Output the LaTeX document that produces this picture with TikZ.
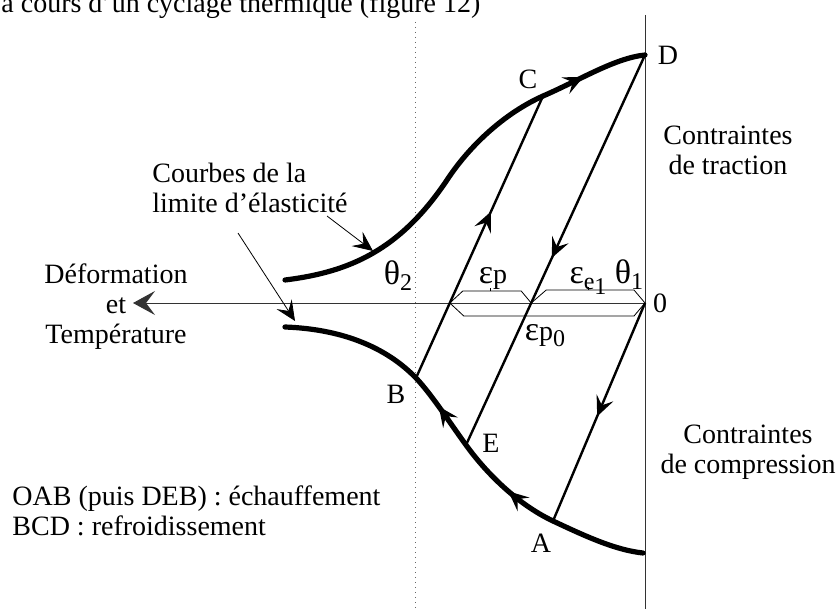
\documentclass[tikz,border=0pt]{standalone}
\usepackage{fontspec}
\setmainfont{Liberation Serif}
\usetikzlibrary{arrows.meta,decorations.markings,calc}
\newcommand\lowidx[1]{\raisebox{-0.5ex}{\fontsize{12}{13}\selectfont #1}}
\newcommand\gk[1]{{\fontsize{17}{18}\selectfont #1}}

\begin{document}
\begin{tikzpicture}[x=0.5pt,y=-0.5pt,font=\fontsize{14}{15}\selectfont]
  \tikzset{lbl/.style={inner sep=0pt},
    axe/.style={line width=0.5pt,black!80},
    limite/.style={line width=2.6pt,line cap=round},
    trajet/.style={line width=1.2pt},
    brk/.style={line width=0.4pt},
    fl/.tip={Stealth[length=10pt,width=9pt,inset=4pt]},
    lead/.style={line width=0.4pt,-fl},
    midarr/.style={postaction={decorate},decoration={markings,
      mark=at position #1 with {\arrow{fl}}}}}
  \useasboundingbox (0,0) rectangle (838,609);
  \clip (0,0) rectangle (838,609);
  \node[lbl,anchor=base west] (titre) at (1,13) {a cours d'un cyclage thermique (figure 12)};
  \coordinate (O) at (645,303);
  \coordinate (A) at (553,521);
  \coordinate (B) at (416,378);
  \coordinate (C) at (543,96);
  \coordinate (D) at (645,55);
  \coordinate (E) at (466,445);
  \coordinate (s1) at (285,280);
  \coordinate (s2) at (285,327);
  \coordinate (f2) at (643,553);
  \coordinate (tip) at (133,303);
  \coordinate (top) at (645,15);
  \coordinate (bot) at (645,609);
  \coordinate (dtop) at (415,22);
  \coordinate (dbot) at (415,609);
  \coordinate (Q) at (intersection of B--C and O--tip);
  \coordinate (P) at (intersection of D--E and O--tip);
  \draw[axe] (top) -- (bot);
  \draw[axe,dotted,black!60] (dtop) -- (dbot);
  \draw[axe,-{Stealth[length=11pt,width=12pt,inset=4.5pt]}] (O) -- (tip);
  \draw[limite,midarr=0.85] (s1) .. controls (350,272) and (400,250) .. (447,180)
    .. controls (470,145) and (505,113) .. (C) .. controls (580,80) and (615,58) .. (D);
  \draw[limite,postaction={decorate},decoration={markings,
      mark=at position 0.34 with {\arrow{fl}},
      mark=at position 0.59 with {\arrow{fl}}}]
    (f2) .. controls (615,550) and (585,536) .. (A) .. controls (515,503) and (484,470) .. (E)
    .. controls (450,423) and (432,395) .. (B) .. controls (385,346) and (340,329) .. (s2);
  \draw[trajet,midarr=0.59] (B) -- (C);
  \draw[trajet,midarr=0.52] (D) -- (E);
  \draw[trajet,midarr=0.52] (O) -- (A);
  \draw[brk] (Q) -- ($(Q)+(13,-12)$) -- ($(P)+(-10,-12)$) -- (P);
  \draw[brk] ($(Q)!0.5!(P)+(0,-12)$) -- ++(0,-3);
  \draw[brk] (P) -- ($(P)+(15,-13)$) -- ($(O)+(-11,-13)$) -- (O);
  \draw[brk] ($(P)!0.5!(O)+(0,-13)$) -- ++(0,-3);
  \draw[brk] (Q) -- ($(Q)+(14,13)$) -- ($(O)+(-11,13)$) -- (O);
  \node[lbl,align=left,anchor=west] (lim) at (152,188) {Courbes de la\\limite d'élasticité};
  \coordinate (l1) at (327,216);
  \coordinate (l2) at (238,233);
  \coordinate (t1) at (373,251);
  \coordinate (t2) at (295,321);
  \draw[lead] (l1) -- (t1);
  \draw[lead] (l2) -- (t2);
  \node[lbl,align=center] (def) at (116,307) {Déformation\\et\\Température};
  \node[lbl,align=center] (trac) at (728,150) {Contraintes\\de traction};
  \node[lbl,align=center] (comp) at (748,452) {Contraintes\\de compression};
  \node[lbl,anchor=base west] (leg1) at (12,505) {OAB (puis DEB) : échauffement};
  \node[lbl,anchor=base west] (leg2) at (12,535) {BCD : refroidissement};
  \node[lbl] (nO) at (660,303) {0};
  \node[lbl] (nA) at (541,543) {A};
  \node[lbl] (nB) at (396,394) {B};
  \node[lbl] (nC) at (528,79) {C};
  \node[lbl] (nD) at (668,55) {D};
  \node[lbl] (nE) at (491,443) {E};
  \node[lbl,anchor=base] (th2) at (398,284) {\gk{θ}\lowidx{2}};
  \node[lbl,anchor=base] (th1) at (629,283) {\gk{θ}\lowidx{1}};
  \node[lbl,anchor=base] (ep) at (493,283) {\gk{ε}p};
  \node[lbl,anchor=base] (ee) at (588,283) {\gk{ε}\lowidx{e\lowidx{1}}};
  \node[lbl,anchor=base] (ep0) at (545,340) {\gk{ε}p\lowidx{0}};
\end{tikzpicture}
\end{document}
